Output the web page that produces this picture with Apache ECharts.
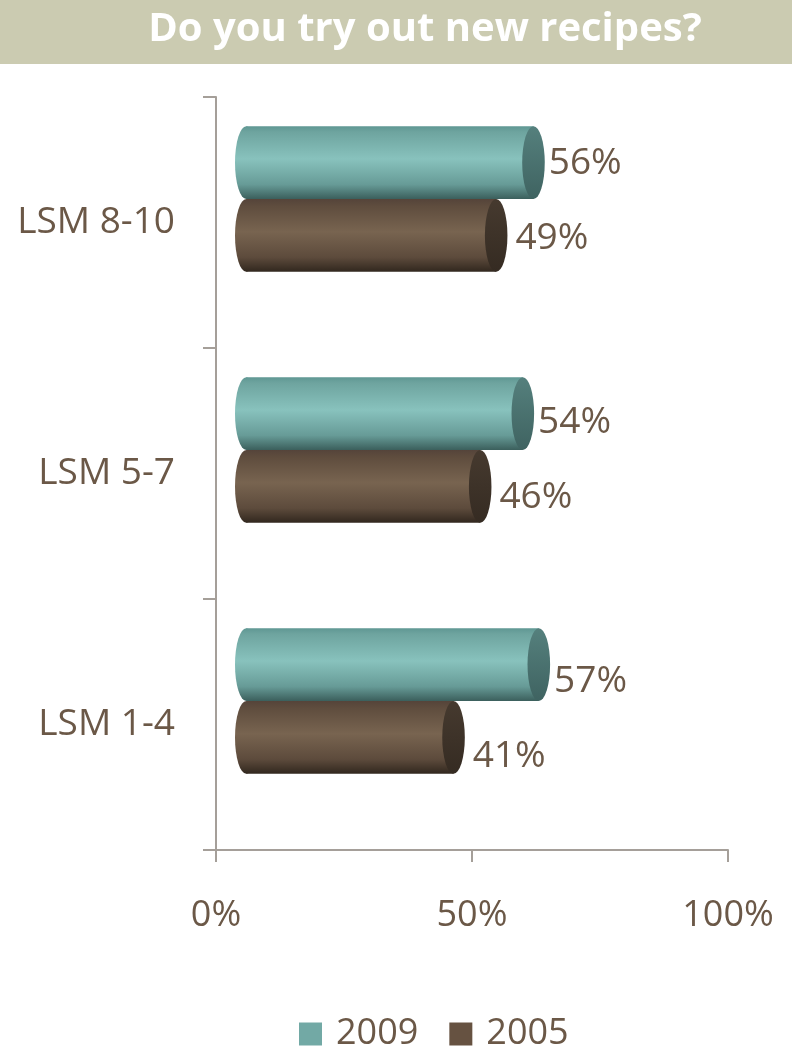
<!DOCTYPE html>
<html>
<head>
<meta charset="utf-8">
<script src="https://cdn.jsdelivr.net/npm/echarts@6/dist/echarts.min.js"></script>
<style>
  html, body { margin: 0; padding: 0; background: #ffffff; }
  #chart { width: 792px; height: 1049px; }
</style>
</head>
<body>
<div id="chart"></div>
<script>
// Survey groups (bottom to top on the category axis)
const categories = ['LSM 1-4', 'LSM 5-7', 'LSM 8-10'];
const seriesNames = ['2009', '2005'];
const values2009 = [57, 54, 56];
const values2005 = [41, 46, 49];
const xTicks = [0, 50, 100];

const TEXT = '#6b5847';
const AXIS = '#a59f99';
const FONT = '"Open Sans", "Noto Sans", sans-serif';

// Cylinder body/cap colours per series, plus gap before the value label
const styles = {
  '2009': {
    legend: '#72a9a5',
    body: [[0, '#5f9793'], [0.08, '#6ea49f'], [0.45, '#88c2bd'], [0.8, '#679b97'], [1, '#3b5f5c']],
    cap: [[0, '#55807d'], [1, '#3f6361']],
    labelGap: 4
  },
  '2005': {
    legend: '#665241',
    body: [[0, '#55443a'], [0.1, '#5f4d3e'], [0.45, '#786450'], [0.8, '#5d4b3c'], [1, '#31271e']],
    cap: [[0, '#463a2f'], [1, '#352b22']],
    labelGap: 8
  }
};

function grad(stops) {
  return { type: 'linear', x: 0, y: 0, x2: 0, y2: 1,
    colorStops: stops.map(s => ({ offset: s[0], color: s[1] })) };
}

// Horizontal cylinder: rounded left end, body, darker elliptical cap on the right
function cylinder(name, side) {
  const st = styles[name];
  return function (params, api) {
    const cat = api.value(0);
    const v = api.value(1);
    const p0 = api.coord([0, cat]);
    const p1 = api.coord([v, cat]);
    const band = api.size([0, 1])[1];
    const h = band * 0.29;
    const yTop = side < 0 ? p0[1] - h : p0[1];
    const ry = h / 2;
    const rx = h * 0.155;
    const cy = yTop + ry;
    const x0 = p0[0] + rx;
    const x1 = p1[0];
    // labels drift slightly downward lower in the plot (depth perspective)
    const labelY = cy + (cy - 131) * 0.032;
    return {
      type: 'group',
      children: [
        { type: 'circle', x: x0, y: cy, scaleX: rx / ry,
          shape: { cx: 0, cy: 0, r: ry }, style: { fill: grad(st.body) } },
        { type: 'rect', shape: { x: x0, y: yTop, width: x1 - x0, height: h },
          style: { fill: grad(st.body) } },
        { type: 'circle', x: x1, y: cy, scaleX: rx / ry,
          shape: { cx: 0, cy: 0, r: ry }, style: { fill: grad(st.cap) } },
        { type: 'text', x: x1 + rx + st.labelGap, y: labelY,
          style: { text: v + '%', fill: TEXT, font: '37px ' + FONT,
                   align: 'left', verticalAlign: 'middle' } }
      ]
    };
  };
}

const chart = echarts.init(document.getElementById('chart'), null, { renderer: 'canvas' });

chart.setOption({
  backgroundColor: '#ffffff',
  animation: false,
  graphic: [
    { type: 'rect', shape: { x: 0, y: 0, width: 792, height: 64 },
      style: { fill: '#cbcbb1' }, z: 0 },
    { type: 'text', x: 425, y: 30,
      style: { text: 'Do you try out new recipes?', fill: '#ffffff',
               font: 'bold 40px ' + FONT, align: 'center', verticalAlign: 'middle' } }
  ],
  legend: {
    left: 299, top: 1016, padding: 0,
    itemWidth: 23, itemHeight: 23, itemGap: 31,
    icon: 'rect',
    textStyle: { color: TEXT, fontSize: 36, fontFamily: FONT, padding: [0, 0, 0, 9] },
    data: seriesNames
  },
  grid: [
    // visible axes
    { left: 216, right: 64, top: 97, bottom: 199 },
    // bar plane, set forward in depth
    { left: 235, right: 24, top: 73.5, bottom: 222.5 }
  ],
  xAxis: [
    { gridIndex: 0, type: 'value', min: xTicks[0], max: xTicks[xTicks.length - 1], interval: 50,
      axisLine: { show: true, lineStyle: { color: AXIS, width: 2 } },
      axisTick: { show: true, length: 12, lineStyle: { color: AXIS, width: 2 } },
      splitLine: { show: false },
      axisLabel: { formatter: '{value}%', color: TEXT, fontSize: 36, fontFamily: FONT, margin: 48 } },
    { gridIndex: 1, type: 'value', min: 0, max: 100, show: false }
  ],
  yAxis: [
    { gridIndex: 0, type: 'category', data: categories,
      axisLine: { show: true, lineStyle: { color: AXIS, width: 2 } },
      axisTick: { show: true, length: 13, lineStyle: { color: AXIS, width: 2 } },
      axisLabel: { color: TEXT, fontSize: 37, fontFamily: FONT, margin: 41 } },
    { gridIndex: 1, type: 'category', data: categories, show: false }
  ],
  series: [
    { name: '2009', type: 'custom', xAxisIndex: 1, yAxisIndex: 1,
      itemStyle: { color: styles['2009'].legend },
      renderItem: cylinder('2009', -1),
      data: values2009.map((v, i) => [i, v]), encode: { x: 1, y: 0 } },
    { name: '2005', type: 'custom', xAxisIndex: 1, yAxisIndex: 1,
      itemStyle: { color: styles['2005'].legend },
      renderItem: cylinder('2005', 1),
      data: values2005.map((v, i) => [i, v]), encode: { x: 1, y: 0 } }
  ]
});
</script>
</body>
</html>
